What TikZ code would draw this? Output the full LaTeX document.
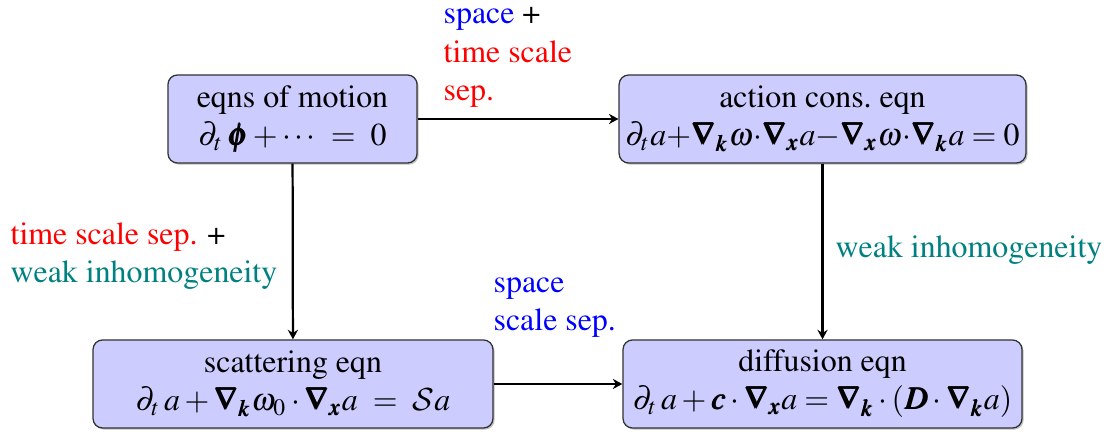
\documentclass[tikz,border=0pt]{standalone}
\usepackage{amsmath,amssymb}
\usepackage[T1]{fontenc}
\usepackage{mathptmx}
\usepackage{bm}
\usepackage{tikz}
\usetikzlibrary{arrows.meta,shadows}
\DeclareMathAlphabet{\mathcmcal}{OMS}{cmsy}{m}{n}
\newcommand{\gradk}{\bm{\nabla}_{\bm{k}}}
\newcommand{\gradx}{\bm{\nabla}_{\bm{x}}}
\definecolor{inhom}{RGB}{0,128,128}
\tikzset{
  box/.style={draw=black!80, rounded corners=3pt, align=center, fill=blue!20,
    minimum height=27.6pt, inner sep=2pt,
    drop shadow={shadow xshift=0.5pt, shadow yshift=-0.5pt, opacity=0.5}},
  arr/.style={-{Stealth[length=3pt, width=3.2pt, inset=1pt]}, line width=0.7pt},
  lbl/.style={align=left, inner sep=0pt}}

\begin{document}
\begin{tikzpicture}[x=0.3135pt, y=-0.3135pt]
  \useasboundingbox (0,0) rectangle (1119,434);
  \node[box, minimum width=78.1pt] (m) at (292.5,119) {eqns of motion\\$\partial_t\,\bm{\phi} + \cdots\ =\ 0$};
  \node[box, minimum width=125.1pt] (a) at (822.5,119) {action cons.\ eqn\\$\partial_t a{+}\gradk\omega{\cdot}\gradx a{-}\gradx\omega{\cdot}\gradk a = 0$};
  \node[box, minimum width=125.4pt] (s) at (293,384) {scattering eqn\\$\partial_t\, a + \gradk\omega_0\cdot\gradx a\ =\ \mathcmcal{S}a$};
  \node[box, minimum width=125.1pt] (d) at (822.5,384) {diffusion eqn\\$\partial_t\, a + \bm{c}\cdot\gradx a = \gradk\cdot(\bm{D}\cdot\gradk a)$};
  % connectors
  \draw[arr] (m) -- (a);
  \draw[arr] (m) -- (s);
  \draw[arr] (a) -- (d);
  \draw[arr] (s) -- (d);
  % labels
  \node[lbl, anchor=north west] (l1) at (443,7) {\textcolor{blue}{space} +\\\textcolor{red}{time scale}\\\textcolor{red}{sep.}};
  \node[lbl, anchor=north west] (l2) at (10,222) {\textcolor{red}{time scale sep.} +\\\textcolor{inhom}{weak inhomogeneity}};
  \node[lbl, anchor=base west] (l3) at (835,258) {\textcolor{inhom}{weak inhomogeneity}};
  \node[lbl, anchor=north west] (l4) at (493,277) {\textcolor{blue}{space}\\\textcolor{blue}{scale sep.}};
\end{tikzpicture}
\end{document}
